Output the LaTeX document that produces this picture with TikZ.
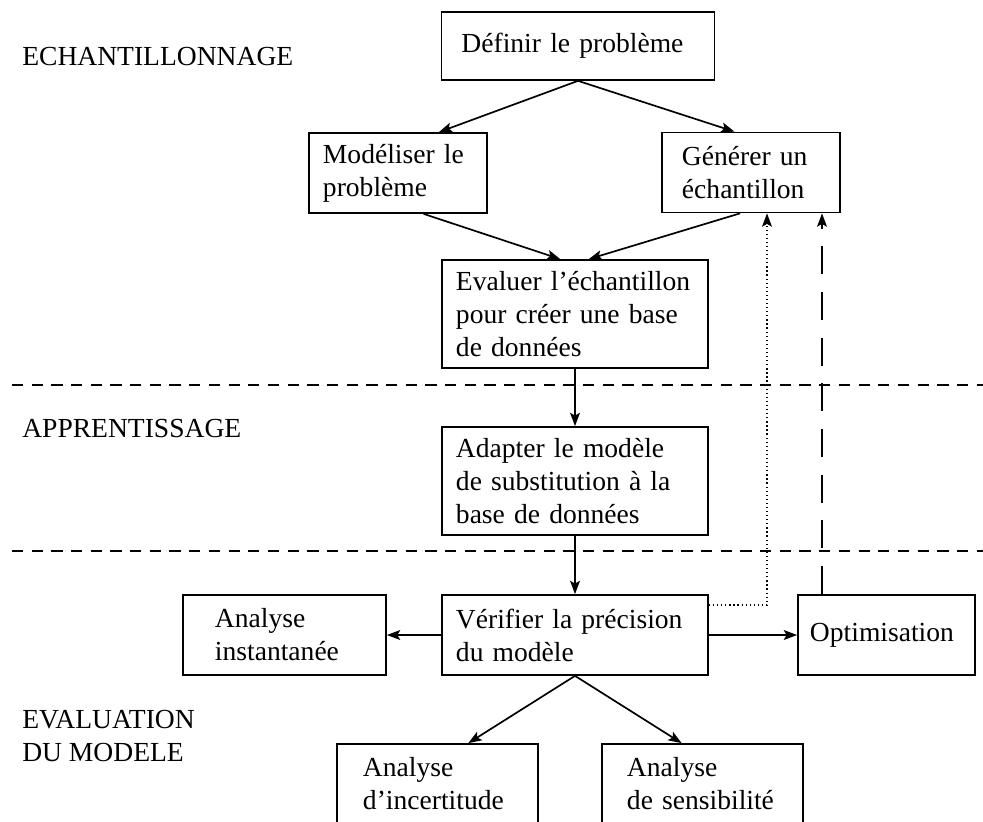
\documentclass[tikz,border=0pt]{standalone}
\usepackage{fontspec}
\setmainfont{Liberation Serif}
\usetikzlibrary{arrows.meta, calc}
\tikzset{
  procbox/.style={
    rectangle, draw=black, line width=1.2pt,
    align=left, inner xsep=0.35cm, inner ysep=2pt,
    minimum height=2cm,
    font=\fontsize{19.6}{23.5}\selectfont
  },
  phaselabel/.style={
    anchor=west, inner sep=0pt, align=left,
    font=\fontsize{19.6}{23.5}\selectfont
  },
  flowarrow/.style={-{Stealth[length=9.5pt, width=7pt, inset=2pt]}, line width=1.2pt},
  sepline/.style={line width=1.2pt, dash pattern=on 8pt off 6pt},
}

\begin{document}
\begin{tikzpicture}[x=0.025cm, y=-0.025cm]
    \useasboundingbox (0,0) rectangle (983,821);
    \clip (0,0) rectangle (983,821);

    % phases
    \node[phaselabel] (ech)   at (22,57)  {ECHANTILLONNAGE};
    \node[phaselabel] (app)   at (22,429) {APPRENTISSAGE};
    \node[phaselabel] (evmod) at (22,736) {EVALUATION\\DU MODELE};
    \draw[sepline] (12,385) -- (983,385);
    \draw[sepline] (12,551) -- (983,551);

    % boxes
    \node[procbox, text width=5.825cm, inner xsep=0.5cm, minimum height=1.7cm] (def) at (578,46) {Définir le problème};
    \node[procbox, text width=3.75cm]                     (mod)    at (398,173)   {Modéliser le\\problème};
    \node[procbox, text width=3.45cm, inner xsep=0.5cm]   (gen)    at (751,172.5) {Générer un\\échantillon};
    \node[procbox, text width=5.95cm, minimum height=2.7cm] (eval) at (575,314)   {Evaluer l'échantillon\\pour créer une base\\de données};
    \node[procbox, text width=5.95cm, minimum height=2.7cm] (adapt) at (575,481)  {Adapter le modèle\\de substitution à la\\base de données};
    \node[procbox, text width=5.95cm]                     (verif)  at (575,635)   {Vérifier la précision\\du modèle};
    \node[procbox, text width=3.825cm, inner xsep=0.3cm]  (optim)  at (886.5,635) {Optimisation};
    \node[procbox, text width=3.475cm, inner xsep=0.8cm]  (inst)   at (284.5,635) {Analyse\\instantanée};
    \node[procbox, text width=3.725cm, inner xsep=0.65cm] (incert) at (437.5,784) {Analyse\\d'incertitude};
    \node[procbox, text width=3.775cm, inner xsep=0.625cm] (sensib) at (702.5,784) {Analyse\\de sensibilité};

    % flow
    \draw[flowarrow] (def.south) -- (mod.45);
    \draw[flowarrow] (def.south) -- (gen.112);
    \draw[flowarrow] (mod.302) -- (eval.105);
    \draw[flowarrow] (gen.255) -- (eval.76);
    \draw[flowarrow] (eval.south) -- (adapt.north);
    \draw[flowarrow] (adapt.south) -- (verif.north);
    \draw[flowarrow] (verif.west) -- (inst.east);
    \draw[flowarrow] (verif.east) -- (optim.west);
    \draw[flowarrow] (verif.south) -- (incert.53);
    \draw[flowarrow] (verif.south) -- (sensib.117);

    % feedback loops
    \coordinate (dotturn) at (767,605);
    \coordinate (dashfoot) at (822,595);
    \draw[flowarrow, line width=0.9pt, dotted] (verif.east |- dotturn) -- (dotturn) -- (gen.south -| dotturn);
    \draw[flowarrow, dash pattern=on 20pt off 12.5pt] (optim.north -| dashfoot) -- (gen.south -| dashfoot);
\end{tikzpicture}
\end{document}
